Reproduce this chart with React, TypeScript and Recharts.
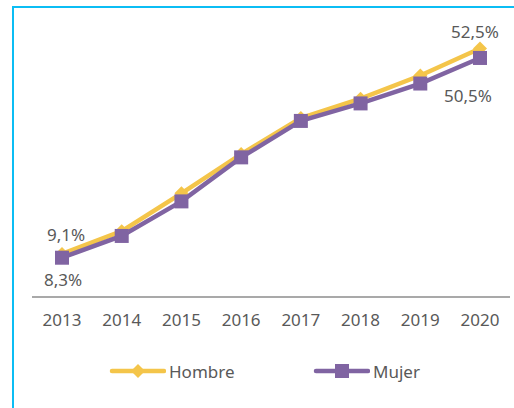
import { LineChart, Line, XAxis, YAxis, LabelList } from "recharts"

const years = ["2013", "2014", "2015", "2016", "2017", "2018", "2019", "2020"]
const hombre = [9.1, 13.9, 21.9, 30.2, 37.8, 41.9, 46.8, 52.5]
const mujer = [8.3, 12.9, 20.2, 29.5, 37.2, 40.9, 45.1, 50.5]

const data = years.map((year, i) => ({ year, hombre: hombre[i], mujer: mujer[i] }))

const YELLOW = "#F4C54A"
const PURPLE = "#8064A2"
const TEXT = "#595959"
const FONT = "'Noto Sans', sans-serif"

const fmt = (v: number) => `${v.toFixed(1).replace(".", ",")}%`

const Diamond = (props: any) => {
    const { cx, cy } = props
    if (cx == null || cy == null) return null
    const r = 7
    return <polygon points={`${cx},${cy - r} ${cx + r},${cy} ${cx},${cy + r} ${cx - r},${cy}`} fill={YELLOW} />
}

const Square = (props: any) => {
    const { cx, cy } = props
    if (cx == null || cy == null) return null
    return <rect x={cx - 7} y={cy - 7} width={14} height={14} fill={PURPLE} />
}

// only first and last points get a label
const edgeLabel = (offsets: { first: [number, number]; last: [number, number] }) => (props: any) => {
    const { x, y, index, value } = props
    if (index !== 0 && index !== years.length - 1) return null
    const [dx, dy] = index === 0 ? offsets.first : offsets.last
    return (
        <text x={x + dx} y={y + dy} textAnchor="middle" dominantBaseline="central" fill={TEXT} fontSize={17} fontFamily={FONT}>
            {fmt(value)}
        </text>
    )
}

const legendText = { fontFamily: FONT, fontSize: 17, color: TEXT }

export default function App() {
    return (
        <div style={{ position: "absolute", left: 0, top: 0, width: 514, height: 408, background: "#fff" }}>
            <div style={{ position: "absolute", left: 12, top: 6, right: 0, bottom: 0, borderTop: "2px solid #0BBDF4", borderLeft: "2px solid #0BBDF4" }} />
            <div style={{ position: "absolute", left: 0, top: 0 }}>
                <LineChart width={514} height={408} data={data} margin={{ top: 13, right: 4, left: 32, bottom: 0 }}>
                    <XAxis
                        dataKey="year"
                        height={111}
                        padding={{ left: 30, right: 30 }}
                        tickLine={false}
                        tickMargin={11}
                        stroke="#8C8C8C"
                        strokeWidth={1.5}
                        tick={{ fill: TEXT, fontSize: 17, fontFamily: FONT }}
                    />
                    <YAxis hide domain={[0, 60]} />
                    <Line
                        dataKey="hombre"
                        stroke={YELLOW}
                        strokeWidth={4.5}
                        dot={<Diamond />}
                        activeDot={false}
                        isAnimationActive={false}
                    >
                        <LabelList dataKey="hombre" content={edgeLabel({ first: [4, -19], last: [-5, -17] })} />
                    </Line>
                    <Line
                        dataKey="mujer"
                        stroke={PURPLE}
                        strokeWidth={4.5}
                        dot={<Square />}
                        activeDot={false}
                        isAnimationActive={false}
                    >
                        <LabelList dataKey="mujer" content={edgeLabel({ first: [1, 22], last: [-12, 38] })} />
                    </Line>
                </LineChart>
            </div>
            <div style={{ position: "absolute", left: 109, top: 358, display: "flex", alignItems: "center", ...legendText }}>
                <svg width={57} height={26}>
                    <line x1={3} y1={13} x2={55} y2={13} stroke={YELLOW} strokeWidth={4.5} strokeLinecap="round" />
                    <polygon points="29,6 36,13 29,20 22,13" fill={YELLOW} />
                </svg>
                <span style={{ marginLeft: 3 }}>Hombre</span>
            </div>
            <div style={{ position: "absolute", left: 313, top: 358, display: "flex", alignItems: "center", ...legendText }}>
                <svg width={57} height={26}>
                    <line x1={3} y1={13} x2={55} y2={13} stroke={PURPLE} strokeWidth={4.5} strokeLinecap="round" />
                    <rect x={22} y={6} width={14} height={14} fill={PURPLE} />
                </svg>
                <span style={{ marginLeft: 3 }}>Mujer</span>
            </div>
        </div>
    )
}
